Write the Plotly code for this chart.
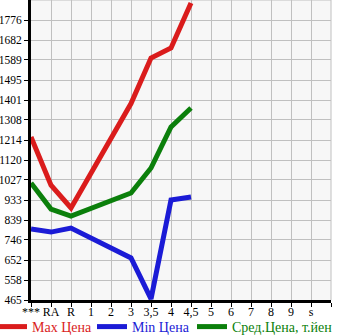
import plotly.graph_objects as go

CATEGORIES = ["***", "RA", "R", "1", "2", "3", "3,5", "4", "4,5", "5", "6", "7", "8", "9", "s"]
Y_TICKS = [465, 558, 652, 746, 839, 933, 1027, 1120, 1214, 1308, 1401, 1495, 1589, 1682, 1776]

MAX_PRICE = [1228, 1003, 896, None, None, 1385, 1598, 1645, 1856, None, None, None, None, None, None]
MIN_PRICE = [797, 783, 802, None, None, 662, 470, 933, 947, None, None, None, None, None, None]
AVG_PRICE = [1013, 891, 858, None, None, 966, 1083, 1275, 1364, None, None, None, None, None, None]

SERIES = [
    ("Max Цена", MAX_PRICE, "#da1c1c"),
    ("Min Цена", MIN_PRICE, "#1b1bd6"),
    ("Сред.Цена, т.йен", AVG_PRICE, "#0b7f0b"),
]
LEGEND_IDS = ["legend", "legend2", "legend3"]
LEGEND_X_PX = [-8, 92, 192]

W, H = 345, 335
ML, MR, MT, MB = 31, 14, 0, 35
PW, PH = W - ML - MR, H - MT - MB
font_family = "Liberation Serif"
x_idx = list(range(len(CATEGORIES)))

fig = go.Figure()
for (name, vals, color), lid in zip(SERIES, LEGEND_IDS):
    fig.add_trace(go.Scatter(
        x=x_idx, y=vals, name=name, mode="lines", connectgaps=True,
        line=dict(color=color, width=5), legend=lid,
    ))

legends = {}
for (name, vals, color), lid, lx in zip(SERIES, LEGEND_IDS, LEGEND_X_PX):
    legends[lid] = dict(
        orientation="h", xref="paper", yref="paper",
        x=(lx - ML) / PW, y=(PH - 327) / PH, xanchor="left", yanchor="middle",
        font=dict(family=font_family, size=14, color=color),
        itemwidth=30, bgcolor="rgba(0,0,0,0)",
    )

fig.update_layout(
    width=W, height=H,
    margin=dict(l=ML, r=MR, t=MT, b=MB, autoexpand=False),
    paper_bgcolor="white",
    plot_bgcolor="#f7f7f7",
    font=dict(family=font_family, size=12, color="black"),
    showlegend=True,
    xaxis=dict(
        range=[0, len(CATEGORIES)],
        tickvals=x_idx + [len(CATEGORIES)],
        ticktext=CATEGORIES + [""],
        tickfont=dict(size=12),
        showgrid=True, gridcolor="#c0c0c0", gridwidth=1,
        showline=True, linecolor="black", linewidth=3,
        ticks="outside", ticklen=4, tickcolor="black", tickwidth=1,
        ticklabelstandoff=-5,
        zeroline=False, fixedrange=True,
    ),
    yaxis=dict(
        range=[465, 1776 + (1776 - 465) / 14],
        tickvals=Y_TICKS,
        ticktext=[str(v) for v in Y_TICKS],
        tickfont=dict(size=11.5),
        showgrid=True, gridcolor="#c0c0c0", gridwidth=1,
        showline=True, linecolor="black", linewidth=3,
        ticks="outside", ticklen=4, tickcolor="black", tickwidth=1,
        ticklabelstandoff=0,
        zeroline=False, fixedrange=True,
    ),
    **legends,
)
fig.add_shape(type="line", xref="paper", yref="paper", x0=1, x1=1, y0=0, y1=1,
              line=dict(color="#c0c0c0", width=1), layer="below")
fig.add_shape(type="line", xref="paper", yref="paper", x0=0, x1=1, y0=1, y1=1,
              line=dict(color="#c0c0c0", width=1), layer="below")

fig.write_html("out.html", config={"displayModeBar": False})
